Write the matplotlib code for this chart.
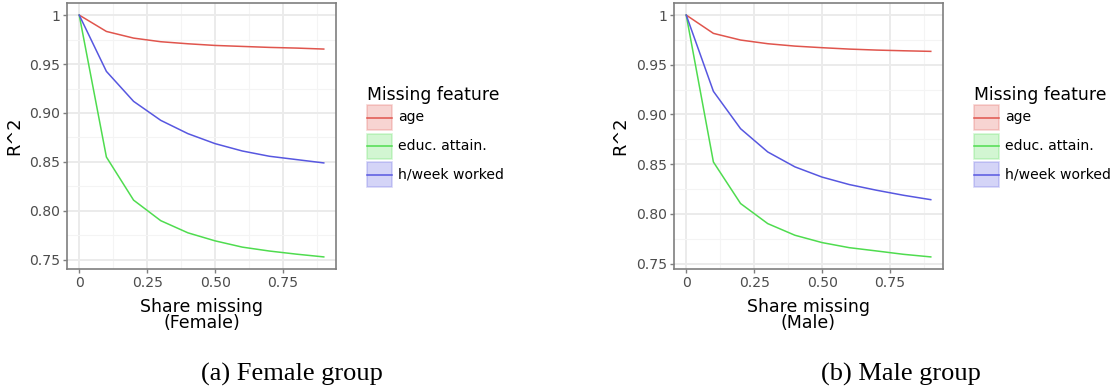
import matplotlib
matplotlib.use("Agg")
import matplotlib.pyplot as plt
from matplotlib.patches import Rectangle
from matplotlib.lines import Line2D

# Share of values removed for the missing feature
share_missing = [0.0, 0.1, 0.2, 0.3, 0.4, 0.5, 0.6, 0.7, 0.8, 0.9]

features = ["age", "educ. attain.", "h/week worked"]
feature_colors = ["#e0554d", "#4fdc4f", "#5757e0"]

# R^2 per feature, female group
female_age = [1.0, 0.9833, 0.9765, 0.9728, 0.9707, 0.9690, 0.9680, 0.9670, 0.9663, 0.9653]
female_educ = [1.0, 0.8550, 0.8110, 0.7900, 0.7776, 0.7694, 0.7630, 0.7590, 0.7558, 0.7530]
female_hours = [1.0, 0.9425, 0.9119, 0.8925, 0.8789, 0.8687, 0.8612, 0.8558, 0.8524, 0.8490]

# R^2 per feature, male group
male_age = [1.0, 0.9816, 0.9749, 0.9712, 0.9688, 0.9672, 0.9658, 0.9648, 0.9641, 0.9635]
male_educ = [1.0, 0.8522, 0.8104, 0.7902, 0.7785, 0.7711, 0.7660, 0.7627, 0.7593, 0.7567]
male_hours = [1.0, 0.9233, 0.8857, 0.8623, 0.8473, 0.8370, 0.8295, 0.8238, 0.8187, 0.8143]

x_ticks = [0.0, 0.25, 0.50, 0.75]
x_tick_labels = ["0", "0.25", "0.50", "0.75"]
y_ticks = [0.75, 0.80, 0.85, 0.90, 0.95, 1.0]
y_tick_labels = ["0.75", "0.80", "0.85", "0.90", "0.95", "1"]

groups = [
    ("Female", [female_age, female_educ, female_hours], "(a) Female group"),
    ("Male", [male_age, male_educ, male_hours], "(b) Male group"),
]

W, H = 1110, 387
fig = plt.figure(figsize=(W / 100, H / 100), dpi=100)


def px_box(x0, y0, x1, y1):
    return [x0 / W, 1 - y1 / H, (x1 - x0) / W, (y1 - y0) / H]


panel_boxes = [(67, 3, 336, 269), (674, 3, 943, 269)]
legend_x = [367, 974]
caption_x = [292, 901]
ylabel_x = [14, 620]

tick_gray = "#4d4d4d"
grid_major = "#ebebeb"
grid_minor = "#f4f4f4"
border = "#7f7f7f"

for gi, (name, series, caption) in enumerate(groups):
    x0, y0, x1, y1 = panel_boxes[gi]
    ax = fig.add_axes(px_box(x0, y0, x1, y1))
    for vals, color in zip(series, feature_colors):
        ax.plot(share_missing, vals, color=color, lw=1.1, zorder=3)

    lo = min(min(s) for s in series)
    hi = max(max(s) for s in series)
    pad = (hi - lo) * 0.05
    ax.set_ylim(lo - pad, hi + pad)
    xpad = (share_missing[-1] - share_missing[0]) * 0.05
    ax.set_xlim(share_missing[0] - xpad, share_missing[-1] + xpad)

    ax.set_xticks(x_ticks)
    ax.set_xticklabels(x_tick_labels)
    ax.set_yticks(y_ticks)
    ax.set_yticklabels(y_tick_labels)
    ax.set_xticks([0.125, 0.375, 0.625, 0.875], minor=True)
    ax.set_yticks([0.775, 0.825, 0.875, 0.925, 0.975], minor=True)

    ax.grid(which="major", color=grid_major, lw=1.4, zorder=0)
    ax.grid(which="minor", color=grid_minor, lw=0.8, zorder=0)
    ax.set_axisbelow(True)
    ax.tick_params(which="major", length=3, width=1.0, color=border,
                   labelcolor=tick_gray, labelsize=10.1, pad=2)
    ax.tick_params(which="minor", length=0)
    for sp in ax.spines.values():
        sp.set_color(border)
        sp.set_linewidth(1.2)

    ax.set_xlabel(f"Share missing\n({name})", fontsize=12.5, color="black",
                  labelpad=5.5, linespacing=0.9)
    fig.text(ylabel_x[gi] / W, 1 - 136 / H, "R^2", rotation=90, fontsize=12.8,
             ha="center", va="center")

    # legend drawn in figure coordinates
    lx = legend_x[gi]
    fig.text(lx / W, 1 - 100 / H, "Missing feature", fontsize=12.4,
             ha="left", va="baseline")
    for k, (label, color) in enumerate(zip(features, feature_colors)):
        ky = 105 + k * 28.5
        fig.patches.append(Rectangle((lx / W, 1 - (ky + 25) / H), 25 / W, 25 / H,
                                     transform=fig.transFigure, facecolor=color,
                                     alpha=0.25, edgecolor=color, lw=1.2))
        fig.lines.append(Line2D([lx / W, (lx + 25) / W],
                                [1 - (ky + 12.5) / H] * 2,
                                transform=fig.transFigure, color=color, lw=1.1))
        fig.text((lx + 31) / W, 1 - (ky + 12.5) / H, label, fontsize=10.1,
                 ha="left", va="center")

    fig.text(caption_x[gi] / W, 1 - 381 / H, caption, fontsize=19,
             family="Liberation Serif", ha="center", va="baseline")

fig.savefig("out.png", dpi=100)
